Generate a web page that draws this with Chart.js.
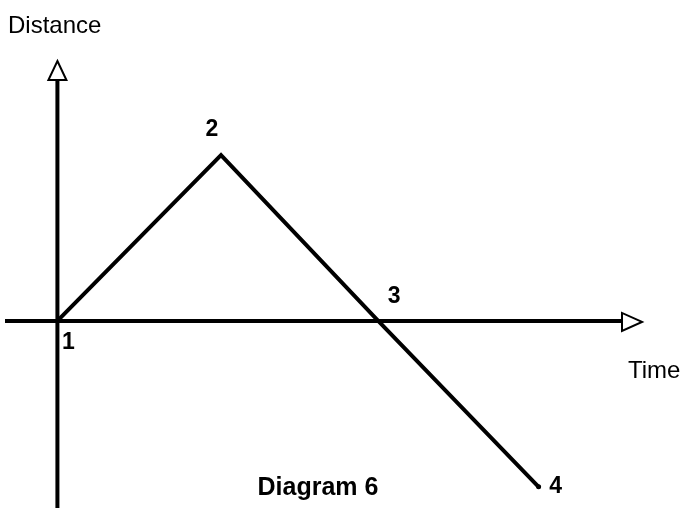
<!DOCTYPE html>
<html>
<head>
<meta charset="utf-8">
<script src="https://cdn.jsdelivr.net/npm/chart.js@4"></script>
<style>
  html, body { margin: 0; padding: 0; background: #fff; }
  canvas { display: block; }
</style>
</head>
<body>
<canvas id="diagram" width="686" height="512"></canvas>
<script>
// values
const times = [0, 1.02, 2, 3];
const distances = [0, 1, 0, -1];
const pointLabels = ["1", "2", "3", "4"];
const xTitle = "Time";
const yTitle = "Distance";
const caption = "Diagram 6";

const points = times.map((t, i) => ({ x: t, y: distances[i] }));

// label offsets in px, per point
const labelOffsets = [[11, 22], [-9, -25], [16, -24], [17, 0]];

const arrowAxes = {
    id: "arrowAxes",
    beforeDatasetsDraw(chart) {
        const ctx = chart.ctx;
        const area = chart.chartArea;
        const x0 = chart.scales.x.getPixelForValue(0);
        const y0 = chart.scales.y.getPixelForValue(0);
        ctx.save();
        ctx.strokeStyle = "#000";
        ctx.lineWidth = 4;
        // y axis
        ctx.beginPath();
        ctx.moveTo(x0, area.bottom);
        ctx.lineTo(x0, 80);
        ctx.stroke();
        // x axis
        ctx.beginPath();
        ctx.moveTo(5, y0);
        ctx.lineTo(622, y0);
        ctx.stroke();
        // open arrow heads
        ctx.lineWidth = 2;
        ctx.fillStyle = "#fff";
        ctx.beginPath();
        ctx.moveTo(x0, 61);
        ctx.lineTo(x0 + 9, 80);
        ctx.lineTo(x0 - 9, 80);
        ctx.closePath();
        ctx.fill();
        ctx.stroke();
        ctx.beginPath();
        ctx.moveTo(642, y0 + 1);
        ctx.lineTo(622, y0 - 8);
        ctx.lineTo(622, y0 + 10);
        ctx.closePath();
        ctx.fill();
        ctx.stroke();
        ctx.restore();
    },
    afterDatasetsDraw(chart) {
        const ctx = chart.ctx;
        const sx = chart.scales.x, sy = chart.scales.y;
        ctx.save();
        ctx.fillStyle = "#000";
        ctx.textAlign = "center";
        ctx.textBaseline = "middle";
        ctx.font = "bold 23px 'Liberation Sans', Arial, sans-serif";
        pointLabels.forEach((lbl, i) => {
            const px = sx.getPixelForValue(times[i]) + labelOffsets[i][0];
            const py = sy.getPixelForValue(distances[i]) + labelOffsets[i][1];
            ctx.fillText(lbl, px, py);
        });
        ctx.font = "24px 'Liberation Sans', Arial, sans-serif";
        ctx.textAlign = "left";
        ctx.fillText(yTitle, 8, 26);
        ctx.fillText(xTitle, 628, 371);
        ctx.font = "bold 25px 'Liberation Sans', Arial, sans-serif";
        ctx.textAlign = "center";
        ctx.fillText(caption, 318, 488);
        ctx.restore();
    }
};

new Chart(document.getElementById("diagram"), {
    type: "scatter",
    data: {
        datasets: [{
            data: points,
            showLine: true,
            borderColor: "#000",
            backgroundColor: "#000",
            borderWidth: 4,
            borderCapStyle: "round",
            borderJoinStyle: "miter",
            pointRadius: [0, 0, 0, 2.5],
            pointBorderWidth: 0,
            tension: 0
        }]
    },
    options: {
        responsive: false,
        animation: false,
        layout: { padding: 0 },
        plugins: { legend: { display: false }, tooltip: { enabled: false } },
        scales: {
            x: { type: "linear", display: false, min: -0.333, max: 3.894 },
            y: { type: "linear", display: false, min: -1.128, max: 1.911 }
        }
    },
    plugins: [arrowAxes]
});
</script>
</body>
</html>
